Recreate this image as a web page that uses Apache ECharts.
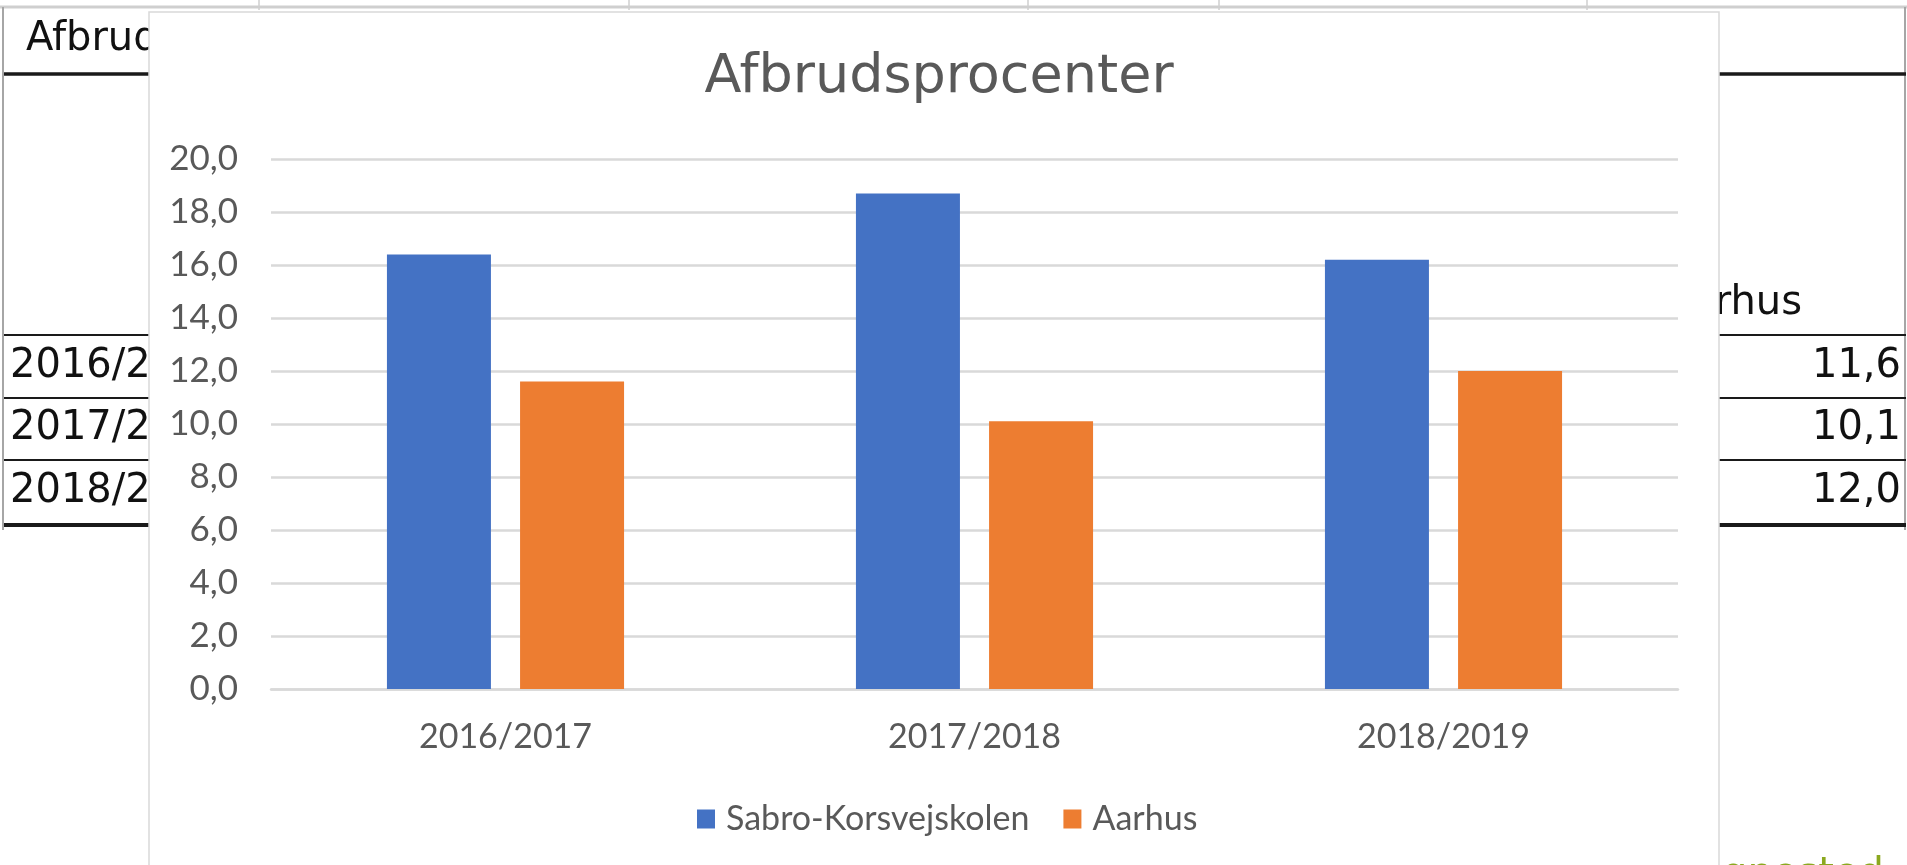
<!DOCTYPE html>
<html>
<head>
<meta charset="utf-8">
<script src="https://cdn.jsdelivr.net/npm/echarts@6/dist/echarts.min.js"></script>
<style>
  html, body { margin: 0; padding: 0; background: #fff; }
  #chart { width: 1907px; height: 865px; }
</style>
</head>
<body>
<div id="chart"></div>
<script>
const categories = ['2016/2017', '2017/2018', '2018/2019']
const sabroValues = [16.4, 18.7, 16.2]
const aarhusValues = [11.6, 10.1, 12.0]
const seriesNames = ['Sabro-Korsvejskolen', 'Aarhus']

const COLORS = { blue: '#4472C4', orange: '#ED7D31', grid: '#D9D9D9', text: '#595959' }
const LABEL_FONT = 'Lato, "Open Sans", sans-serif'
const SHEET_FONT = '"DejaVu Sans", sans-serif'

const fmt = (v) => v.toFixed(1).replace('.', ',')

// spreadsheet bits that sit behind the chart box
const sheetText = (text, x, y, align) => ({
  type: 'text',
  z: -20,
  style: {
    text, x, y,
    font: '40px ' + SHEET_FONT,
    fill: '#111',
    align: align || 'left',
    verticalAlign: 'middle',
  },
})
const hLine = (y, w) => ({
  type: 'line', z: -20,
  shape: { x1: 4, y1: y, x2: 1906, y2: y },
  style: { stroke: '#1a1a1a', lineWidth: w },
})
const rowY = [367, 429, 492]

const graphic = [
  { type: 'line', z: -20, shape: { x1: 0, y1: 7, x2: 1907, y2: 7 }, style: { stroke: '#cfcfcf', lineWidth: 3 } },
  ...[259, 629, 1028, 1219, 1587].map((x) => ({
    type: 'line', z: -20, shape: { x1: x, y1: 0, x2: x, y2: 10 }, style: { stroke: '#cfcfcf', lineWidth: 1.5 },
  })),
  { type: 'line', z: -20, shape: { x1: 3, y1: 7, x2: 3, y2: 530 }, style: { stroke: '#a6a6a6', lineWidth: 2 } },
  { type: 'line', z: -20, shape: { x1: 1905, y1: 7, x2: 1905, y2: 530 }, style: { stroke: '#a6a6a6', lineWidth: 2 } },
  hLine(74, 3.5), hLine(335, 2), hLine(398, 2), hLine(460, 2), hLine(525, 4),
  sheetText('Afbrudsprocenter', 26, 40),
  sheetText('Aarhus', 1802, 304, 'right'),
  ...categories.map((c, i) => sheetText(c, 10, rowY[i])),
  ...aarhusValues.map((v, i) => sheetText(fmt(v), 1901, rowY[i], 'right')),
  {
    type: 'text', z: -20,
    style: { text: 'gnested', x: 1722, y: 856, font: '40px ' + SHEET_FONT, fill: '#8BA81F', verticalAlign: 'top' },
  },
  // the chart box itself
  {
    type: 'rect', z: -10,
    shape: { x: 149, y: 12, width: 1570, height: 870 },
    style: { fill: '#fff', stroke: '#d9d9d9', lineWidth: 1.5 },
  },
]

const chart = echarts.init(document.getElementById('chart'))
chart.setOption({
  animation: false,
  graphic,
  title: {
    text: 'Afbrudsprocenter',
    left: 934,
    top: 46,
    textAlign: 'center',
    textStyle: { fontFamily: SHEET_FONT, fontSize: 54, fontWeight: 'normal', color: COLORS.text },
  },
  legend: {
    data: seriesNames,
    left: 692,
    top: 797,
    itemWidth: 18,
    itemHeight: 19,
    itemGap: 34,
    icon: 'rect',
    textStyle: { fontFamily: LABEL_FONT, fontSize: 34, color: COLORS.text, padding: [0, 0, 0, 6] },
  },
  grid: { left: 271, right: 229, top: 159, bottom: 176 },
  xAxis: {
    type: 'category',
    data: categories,
    axisLine: { lineStyle: { color: COLORS.grid, width: 2.5 } },
    axisTick: { show: false },
    axisLabel: { margin: 31, fontFamily: LABEL_FONT, fontSize: 34, color: COLORS.text },
  },
  yAxis: {
    type: 'value',
    min: 0,
    max: 20,
    interval: 2,
    axisLine: { show: false },
    axisTick: { show: false },
    splitLine: { lineStyle: { color: COLORS.grid, width: 2.5 } },
    axisLabel: { margin: 33, fontFamily: LABEL_FONT, fontSize: 35, color: COLORS.text, formatter: fmt },
  },
  series: [
    { name: seriesNames[0], type: 'bar', data: sabroValues, barWidth: 104, barGap: '28%', itemStyle: { color: COLORS.blue } },
    { name: seriesNames[1], type: 'bar', data: aarhusValues, barWidth: 104, itemStyle: { color: COLORS.orange } },
  ],
})
</script>
</body>
</html>
